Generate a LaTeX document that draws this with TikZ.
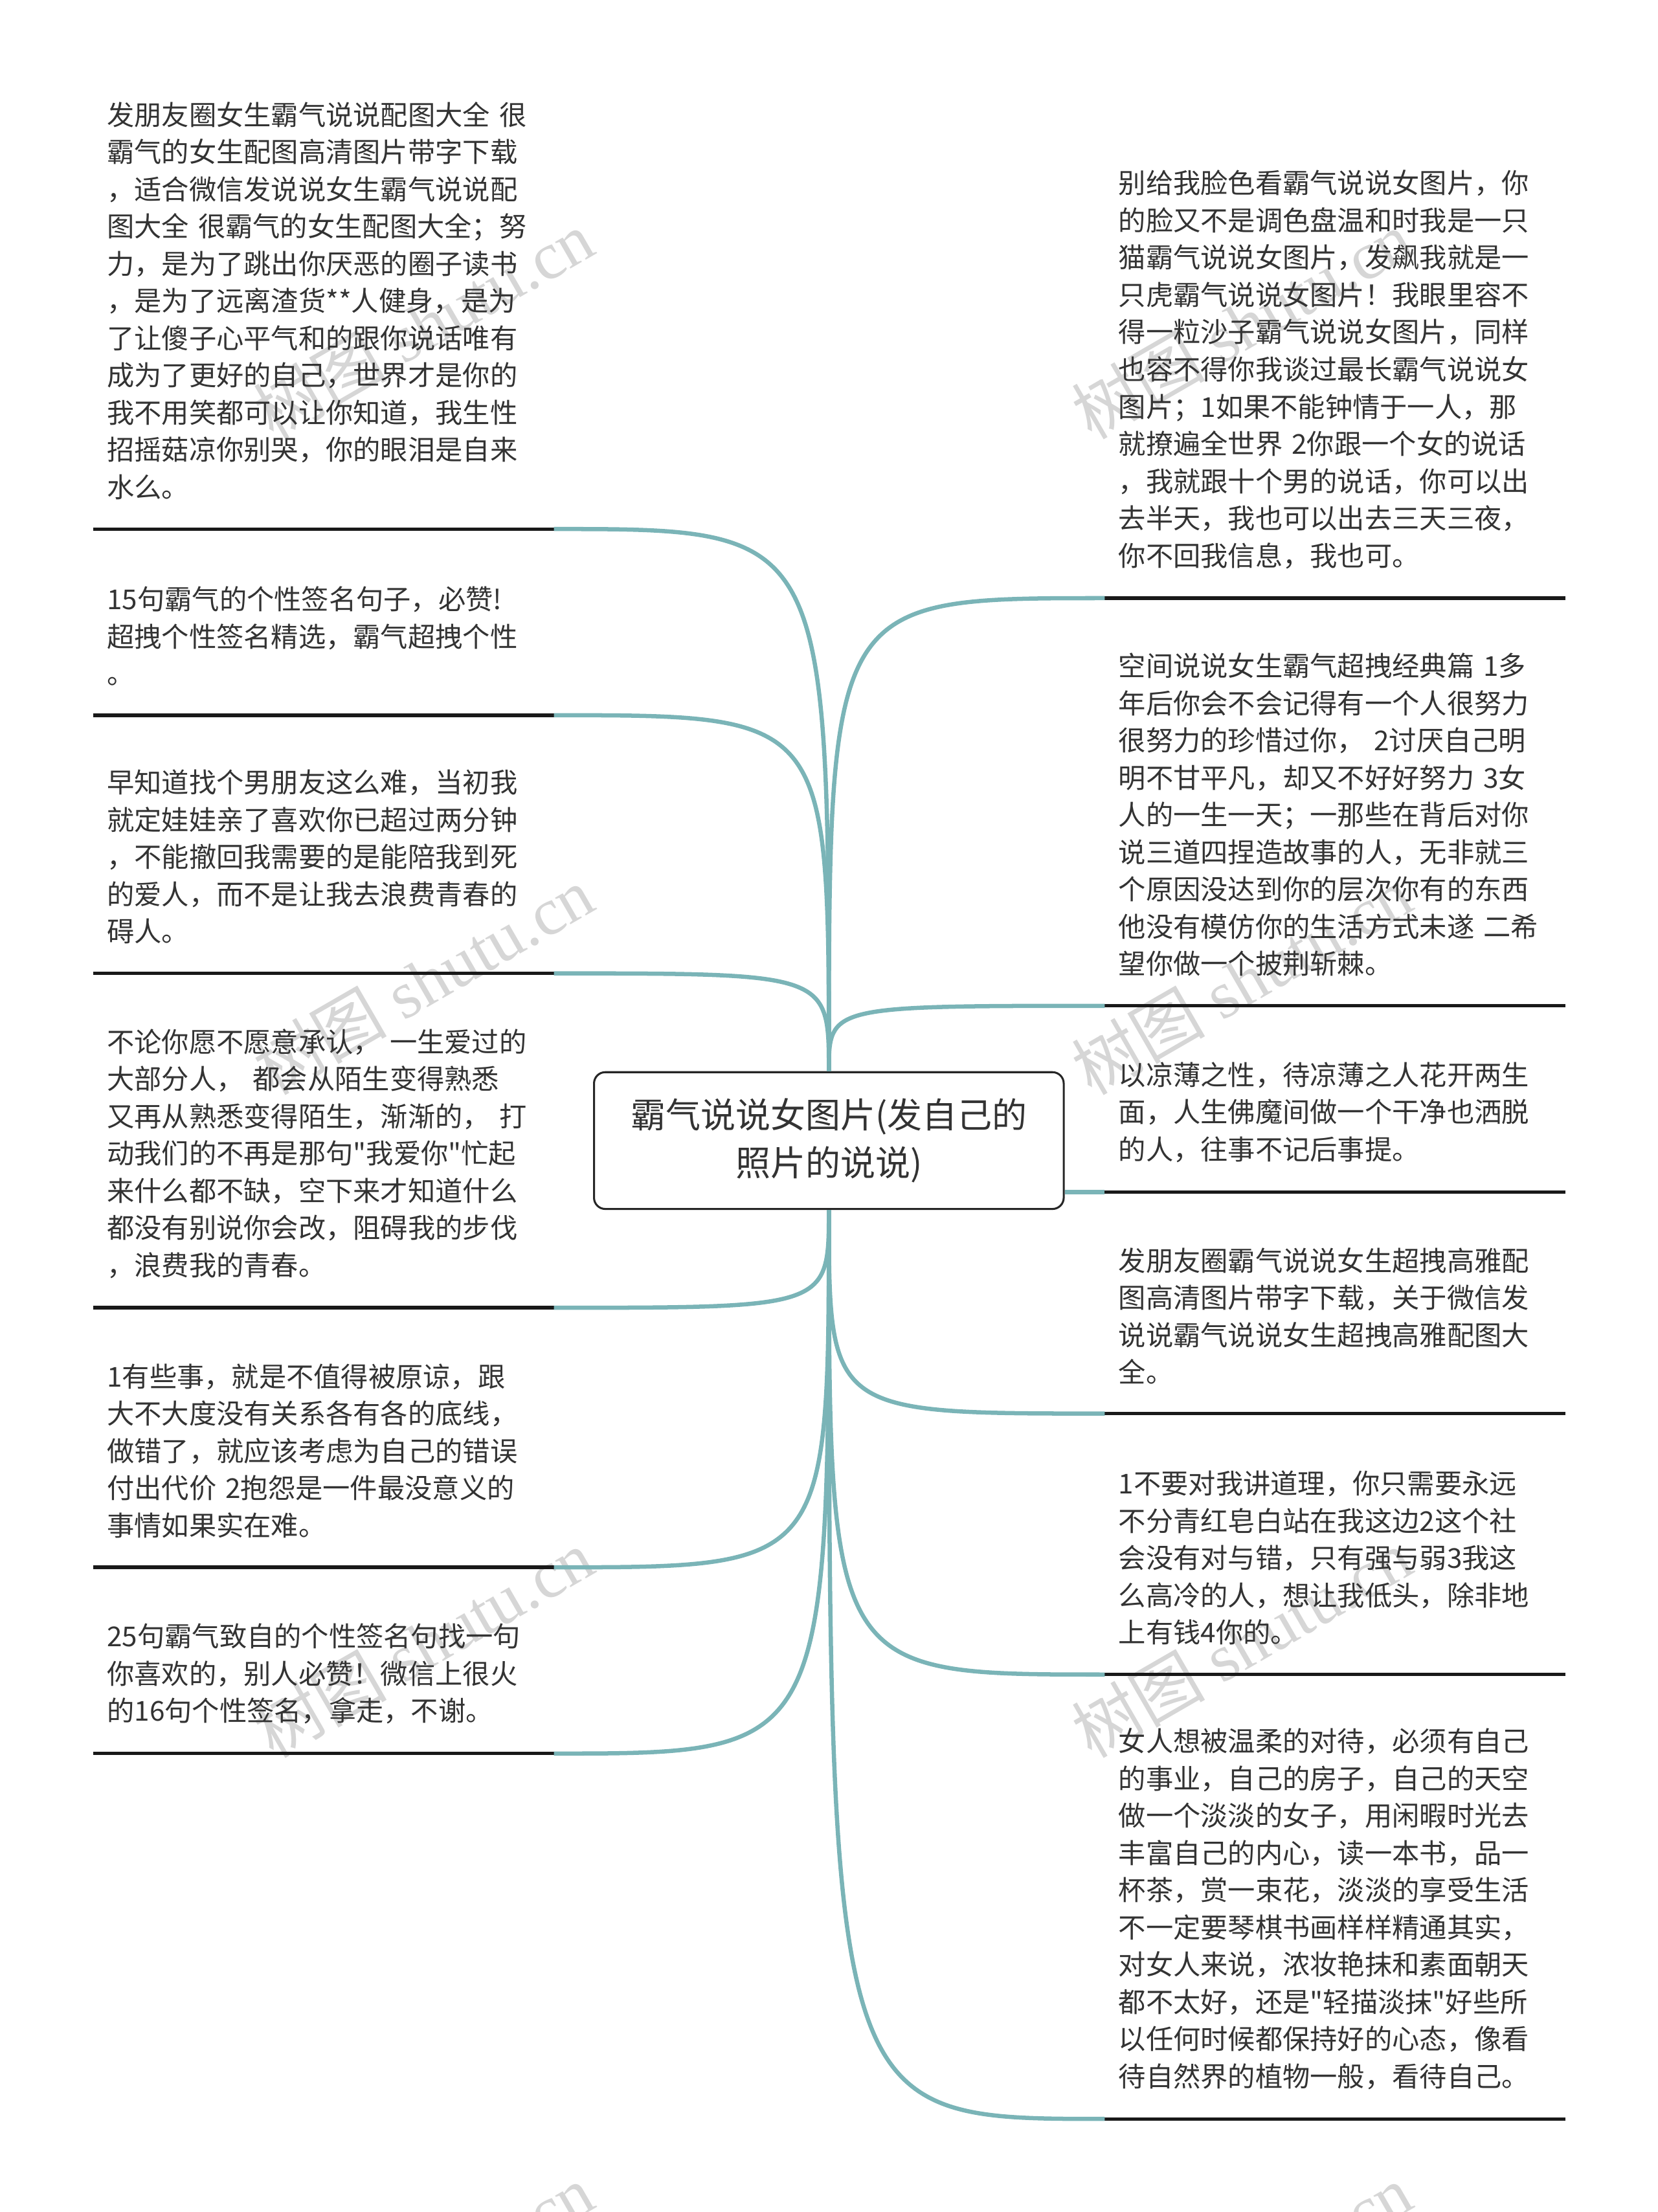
\documentclass[tikz,border=0pt]{standalone}
\usepackage{fontspec}
\newfontfamily\cjkfont{Noto Sans CJK SC}
\newfontfamily\wmfont{Liberation Serif}
\usetikzlibrary{positioning,calc}

\definecolor{txt}{HTML}{333333}
\definecolor{branchc}{HTML}{7AB4B7}
\definecolor{wmc}{HTML}{D6D6D6}

\begin{document}
\begin{tikzpicture}
  [x=0.02cm,y=-0.02cm,
   rootN/.style={draw=black!85,line width=0.8pt,rounded corners=0.16cm,fill=white,
     minimum width=6.66cm,minimum height=1.94cm,align=center,text=txt,
     font=\cjkfont\fontsize{14.1pt}{19.35pt}\selectfont},
   leafN/.style={anchor=south west,text width=6.14cm,align=left,inner xsep=0.19cm,
     inner ysep=0.41cm,text=txt,
     font=\cjkfont\fontsize{11.04pt}{15.02pt}\selectfont},
   underL/.style={line width=1.4pt,black!90},
   branchL/.style={line width=1.7pt,branchc},
   wmarkN/.style={rotate=30,inner sep=0pt,text=wmc,
     font=\wmfont\fontsize{27pt}{27pt}\selectfont}]

  \useasboundingbox (0,0) rectangle (1175,1568);

  \foreach \wy in {230,695,1165,1615}{
    \node[wmarkN] (wl\wy) at (300,\wy) {{\cjkfont 树图} shutu.cn};
    \node[wmarkN] (wr\wy) at (880,\wy) {{\cjkfont 树图} shutu.cn};
  }

  \node[rootN] (root) at (587.5,808.5) {霸气说说女图片(发自己的\\照片的说说)};

  \node[leafN] (l1) at (66,375) {发朋友圈女生霸气说说配图大全 很\\霸气的女生配图高清图片带字下载\\，适合微信发说说女生霸气说说配\\图大全 很霸气的女生配图大全；努\\力，是为了跳出你厌恶的圈子读书\\，是为了远离渣货**人健身，是为\\了让傻子心平气和的跟你说话唯有\\成为了更好的自己，世界才是你的\\我不用笑都可以让你知道，我生性\\招摇菇凉你别哭，你的眼泪是自来\\水么。};
  \node[leafN] (l2) at (66,507) {15句霸气的个性签名句子，必赞!\\超拽个性签名精选，霸气超拽个性\\。};
  \node[leafN] (l3) at (66,690) {早知道找个男朋友这么难，当初我\\就定娃娃亲了喜欢你已超过两分钟\\，不能撤回我需要的是能陪我到死\\的爱人，而不是让我去浪费青春的\\碍人。};
  \node[leafN] (l4) at (66,927) {不论你愿不愿意承认， 一生爱过的\\大部分人， 都会从陌生变得熟悉\\又再从熟悉变得陌生，渐渐的， 打\\动我们的不再是那句"我爱你"忙起\\来什么都不缺，空下来才知道什么\\都没有别说你会改，阻碍我的步伐\\，浪费我的青春。};
  \node[leafN] (l5) at (66,1111) {1有些事，就是不值得被原谅，跟\\大不大度没有关系各有各的底线，\\做错了，就应该考虑为自己的错误\\付出代价 2抱怨是一件最没意义的\\事情如果实在难。};
  \node[leafN] (l6) at (66,1243) {25句霸气致自的个性签名句找一句\\你喜欢的，别人必赞！微信上很火\\的16句个性签名，拿走，不谢。};

  \node[leafN] (r1) at (783,424) {别给我脸色看霸气说说女图片，你\\的脸又不是调色盘温和时我是一只\\猫霸气说说女图片，发飙我就是一\\只虎霸气说说女图片！我眼里容不\\得一粒沙子霸气说说女图片，同样\\也容不得你我谈过最长霸气说说女\\图片；1如果不能钟情于一人，那\\就撩遍全世界 2你跟一个女的说话\\，我就跟十个男的说话，你可以出\\去半天，我也可以出去三天三夜，\\你不回我信息，我也可。};
  \node[leafN] (r2) at (783,713) {空间说说女生霸气超拽经典篇 1多\\年后你会不会记得有一个人很努力\\很努力的珍惜过你， 2讨厌自己明\\明不甘平凡，却又不好好努力 3女\\人的一生一天；一那些在背后对你\\说三道四捏造故事的人，无非就三\\个原因没达到你的层次你有的东西\\他没有模仿你的生活方式未遂 二希\\望你做一个披荆斩棘。};
  \node[leafN] (r3) at (783,845) {以凉薄之性，待凉薄之人花开两生\\面，人生佛魔间做一个干净也洒脱\\的人，往事不记后事提。};
  \node[leafN] (r4) at (783,1002) {发朋友圈霸气说说女生超拽高雅配\\图高清图片带字下载，关于微信发\\说说霸气说说女生超拽高雅配图大\\全。};
  \node[leafN] (r5) at (783,1187) {1不要对我讲道理，你只需要永远\\不分青红皂白站在我这边2这个社\\会没有对与错，只有强与弱3我这\\么高冷的人，想让我低头，除非地\\上有钱4你的。};
  \node[leafN] (r6) at (783,1502) {女人想被温柔的对待，必须有自己\\的事业，自己的房子，自己的天空\\做一个淡淡的女子，用闲暇时光去\\丰富自己的内心，读一本书，品一\\杯茶，赏一束花，淡淡的享受生活\\不一定要琴棋书画样样精通其实，\\对女人来说，浓妆艳抹和素面朝天\\都不太好，还是"轻描淡抹"好些所\\以任何时候都保持好的心态，像看\\待自然界的植物一般，看待自己。};

  \foreach \n in {l1,l2,l3,l4,l5,l6,r1,r2,r3,r4,r5,r6}
    \draw[underL] (\n.south west) -- (\n.south east);

  \foreach \n in {l1,l2,l3}
    \draw[branchL] (root.north) .. controls (root.north |- \n.south east) .. (\n.south east);
  \foreach \n in {l4,l5,l6}
    \draw[branchL] (root.south) .. controls (root.south |- \n.south east) .. (\n.south east);
  \foreach \n in {r1,r2}
    \draw[branchL] (root.north) .. controls (root.north |- \n.south west) .. (\n.south west);
  \foreach \n in {r4,r5,r6}
    \draw[branchL] (root.south) .. controls (root.south |- \n.south west) .. (\n.south west);
  \draw[branchL] (root.east |- r3.south west) -- (r3.south west);
\end{tikzpicture}
\end{document}
